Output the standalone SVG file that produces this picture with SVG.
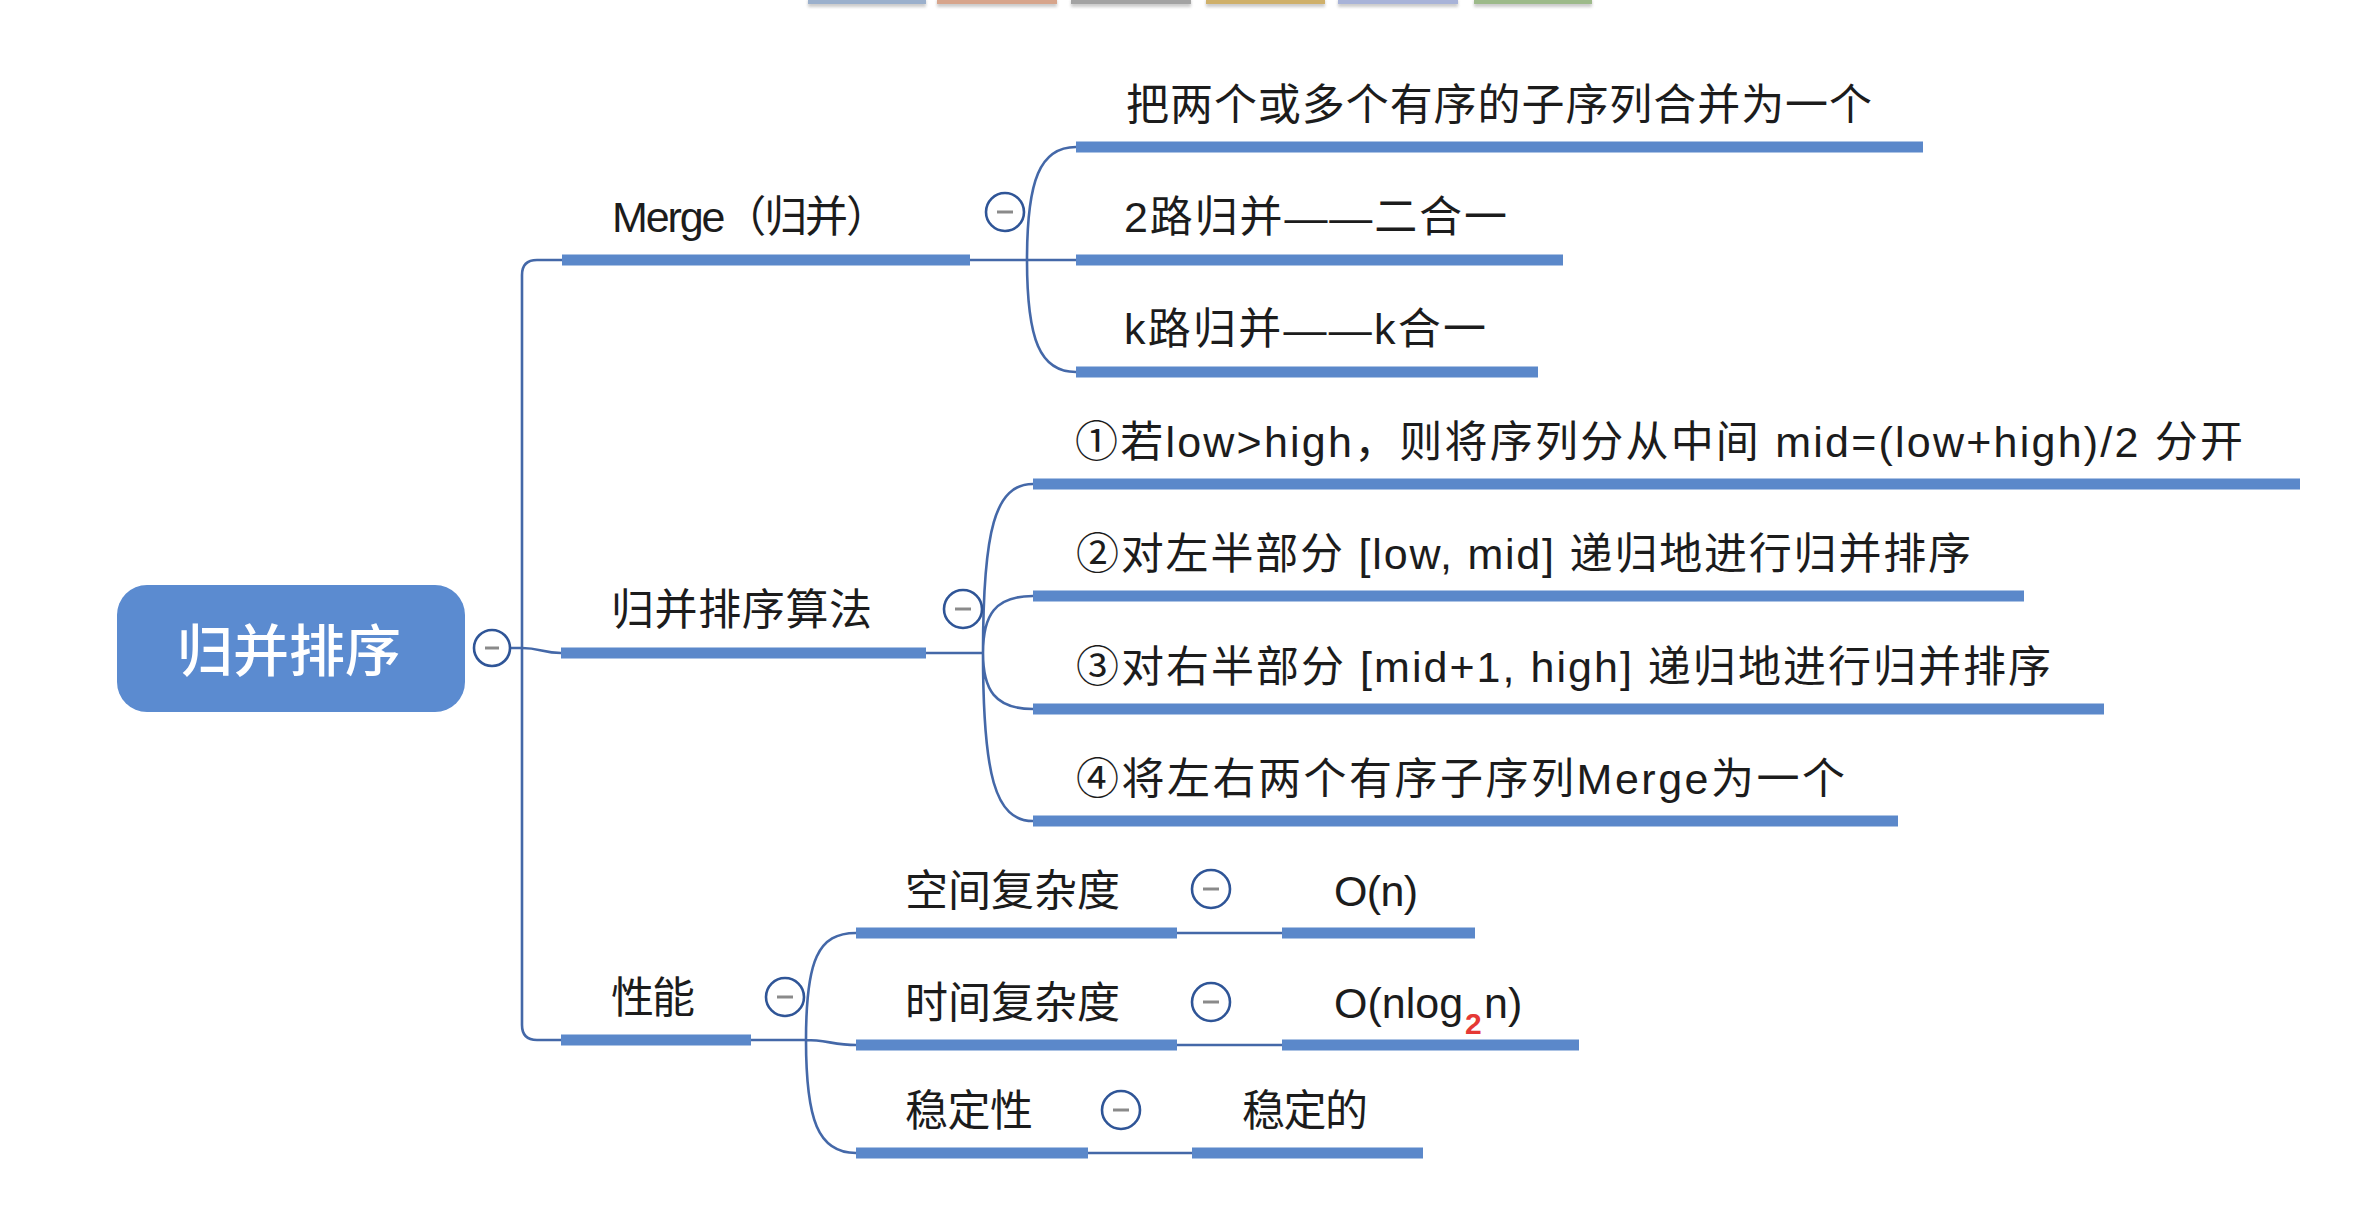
<svg xmlns="http://www.w3.org/2000/svg" width="2354" height="1222" viewBox="0 0 2354 1222">
<defs>
<filter id="sh" x="-10%" y="-100%" width="120%" height="400%"><feGaussianBlur stdDeviation="1.6"/></filter>
</defs>
<style>
.t{font-family:"Liberation Sans","Noto Sans CJK SC",sans-serif;font-size:43px;fill:#1c1c1c}
.u{fill:#5b88ca}
.c{fill:none;stroke:#4468a8;stroke-width:2.6}
.cb circle{fill:#fff;stroke:#2f5597;stroke-width:2.6}
.cb line{stroke:#8a8a8a;stroke-width:3}
</style>
<rect width="2354" height="1222" fill="#fff"/>
<g id="tabs">
<g filter="url(#sh)" fill="#999" opacity="0.5">
<rect x="808" y="0" width="118" height="7"/><rect x="937" y="0" width="120" height="7"/><rect x="1071" y="0" width="120" height="7"/><rect x="1206" y="0" width="119" height="7"/><rect x="1338" y="0" width="120" height="7"/><rect x="1474" y="0" width="118" height="7"/>
</g>
<rect x="808" y="0" width="118" height="4" fill="#9bb0cc"/>
<rect x="937" y="0" width="120" height="4" fill="#d7a58c"/>
<rect x="1071" y="0" width="120" height="4" fill="#a3a3a3"/>
<rect x="1206" y="0" width="119" height="4" fill="#cfb06a"/>
<rect x="1338" y="0" width="120" height="4" fill="#a8b3d8"/>
<rect x="1474" y="0" width="118" height="4" fill="#9dba8a"/>
</g>
<g id="connectors">
<path class="c" d="M562,260 L537,260 Q522,260 522,275 L522,1025 Q522,1040 537,1040 L561,1040"/>
<path class="c" d="M511,648 L522,648 C540,648 543,653 561,653"/>
<path class="c" d="M970,260 L1076,260 M1027,260 C1027,180 1040,147 1076,147 M1027,260 C1027,340 1040,372 1076,372"/>
<path class="c" d="M926,653 L983,653 M983,653 C983,530 995,484 1033,484 M983,653 C983,615 995,596 1033,596 M983,653 C983,690 995,709 1033,709 M983,653 C983,775 995,821 1033,821"/>
<path class="c" d="M751,1040 L806,1040 M806,1040 C806,960 818,933 856,933 M806,1040 C825,1040 835,1045 856,1045 M806,1040 C806,1120 818,1153 856,1153"/>
<path class="c" d="M1177,933 L1282,933 M1177,1045 L1282,1045 M1088,1153 L1192,1153"/>
</g>
<g id="root">
<rect x="117" y="585" width="348" height="127" rx="30" fill="#5b8bd0"/>
<text x="289" y="671" text-anchor="middle" style="font-family:'Noto Sans CJK SC',sans-serif;font-size:56px;font-weight:500;fill:#fff">归并排序</text>
<g class="cb"><circle cx="492" cy="648" r="18"/><line x1="485" y1="648" x2="499" y2="648"/></g>
</g>
<g id="merge">
<text class="t" x="612" y="232" textLength="277" lengthAdjust="spacing">Merge（归并）</text>
<rect class="u" x="562" y="254.5" width="408" height="11"/>
<g class="cb"><circle cx="1005" cy="212" r="19"/><line x1="997" y1="212" x2="1013" y2="212"/></g>
</g>
<g id="merge-1">
<text class="t" x="1126" y="120" textLength="746" lengthAdjust="spacing">把两个或多个有序的子序列合并为一个</text>
<rect class="u" x="1076" y="141.5" width="847" height="11"/>
</g>
<g id="merge-2">
<text class="t" x="1124" y="232" textLength="383" lengthAdjust="spacing">2路归并——二合一</text>
<rect class="u" x="1076" y="254.5" width="487" height="11"/>
</g>
<g id="merge-3">
<text class="t" x="1124" y="344" textLength="362" lengthAdjust="spacing">k路归并——k合一</text>
<rect class="u" x="1076" y="366.5" width="462" height="11"/>
</g>
<g id="algo">
<text class="t" x="611" y="625" textLength="261" lengthAdjust="spacing">归并排序算法</text>
<rect class="u" x="561" y="647.5" width="365" height="11"/>
<g class="cb"><circle cx="963" cy="609" r="19"/><line x1="955" y1="609" x2="971" y2="609"/></g>
</g>
<g id="algo-1">
<text class="t" x="1075" y="457" textLength="1168" lengthAdjust="spacing">①若low&gt;high，则将序列分从中间 mid=(low+high)/2 分开</text>
<rect class="u" x="1033" y="478.5" width="1267" height="11"/>
</g>
<g id="algo-2">
<text class="t" x="1076" y="569" textLength="895" lengthAdjust="spacing">②对左半部分 [low, mid] 递归地进行归并排序</text>
<rect class="u" x="1033" y="590.5" width="991" height="11"/>
</g>
<g id="algo-3">
<text class="t" x="1076" y="682" textLength="975" lengthAdjust="spacing">③对右半部分 [mid+1, high] 递归地进行归并排序</text>
<rect class="u" x="1033" y="703.5" width="1071" height="11"/>
</g>
<g id="algo-4">
<text class="t" x="1076" y="794" textLength="769" lengthAdjust="spacing">④将左右两个有序子序列Merge为一个</text>
<rect class="u" x="1033" y="815.5" width="865" height="11"/>
</g>
<g id="perf">
<text class="t" x="611" y="1013" textLength="84" lengthAdjust="spacing">性能</text>
<rect class="u" x="561" y="1034.5" width="190" height="11"/>
<g class="cb"><circle cx="785" cy="997" r="19"/><line x1="777" y1="997" x2="793" y2="997"/></g>
</g>
<g id="perf-space">
<text class="t" x="905" y="906" textLength="215" lengthAdjust="spacing">空间复杂度</text>
<rect class="u" x="856" y="927.5" width="321" height="11"/>
<g class="cb"><circle cx="1211" cy="889" r="19"/><line x1="1203" y1="889" x2="1219" y2="889"/></g>
</g>
<g id="perf-space-val">
<text class="t" x="1334" y="906" textLength="84" lengthAdjust="spacing">O(n)</text>
<rect class="u" x="1282" y="927.5" width="193" height="11"/>
</g>
<g id="perf-time">
<text class="t" x="905" y="1018" textLength="215" lengthAdjust="spacing">时间复杂度</text>
<rect class="u" x="856" y="1039.5" width="321" height="11"/>
<g class="cb"><circle cx="1211" cy="1002" r="19"/><line x1="1203" y1="1002" x2="1219" y2="1002"/></g>
</g>
<g id="perf-time-val">
<text class="t" x="1334" y="1018">O(nlog</text>
<text class="t" x="1484" y="1018">n)</text>
<text x="1465" y="1034" style="font-family:'Liberation Sans',sans-serif;font-size:30px;font-weight:bold;fill:#e53935">2</text>
<rect class="u" x="1282" y="1039.5" width="297" height="11"/>
</g>
<g id="perf-stable">
<text class="t" x="905" y="1126" textLength="128" lengthAdjust="spacing">稳定性</text>
<rect class="u" x="856" y="1147.5" width="232" height="11"/>
<g class="cb"><circle cx="1121" cy="1110" r="19"/><line x1="1113" y1="1110" x2="1129" y2="1110"/></g>
</g>
<g id="perf-stable-val">
<text class="t" x="1242" y="1126" textLength="126" lengthAdjust="spacing">稳定的</text>
<rect class="u" x="1192" y="1147.5" width="231" height="11"/>
</g>
</svg>
